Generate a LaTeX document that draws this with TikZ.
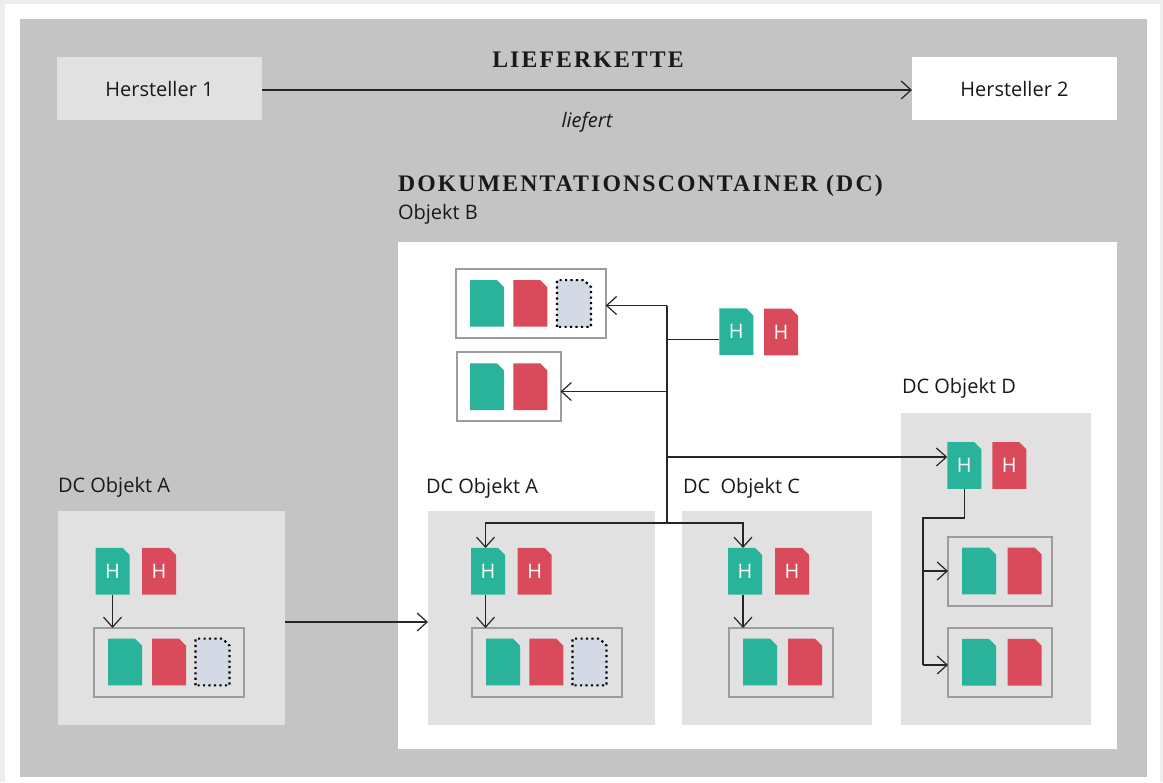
\documentclass[tikz,border=0pt]{standalone}
\usepackage{fontspec}
\setmainfont{Open Sans}
\newfontfamily\titlefont[LetterSpace=9]{Liberation Serif}
\usetikzlibrary{arrows.meta}
\definecolor{page}{RGB}{238, 238, 238}
\definecolor{frame}{RGB}{196, 196, 196}
\definecolor{panel}{RGB}{225, 225, 225}
\definecolor{setline}{RGB}{156, 156, 156}
\definecolor{docgreen}{RGB}{40, 179, 154}
\definecolor{docred}{RGB}{217, 75, 90}
\definecolor{docblue}{RGB}{211, 218, 229}
% Sheet with one cut corner
\makeatletter
\pgfdeclareshape{sheet}{
  \inheritsavedanchors[from=rectangle]
  \inheritanchorborder[from=rectangle]
  \inheritanchor[from=rectangle]{center}
  \inheritanchor[from=rectangle]{north}
  \inheritanchor[from=rectangle]{south}
  \inheritanchor[from=rectangle]{east}
  \inheritanchor[from=rectangle]{west}
  \backgroundpath{
    \southwest \edef\sheetleft{\the\pgf@x}\edef\sheetlow{\the\pgf@y}
    \northeast \edef\sheetright{\the\pgf@x}\edef\sheettop{\the\pgf@y}
    \pgfpathmoveto{\pgfpoint{\sheetleft}{\sheetlow}}
    \pgfpathlineto{\pgfpoint{\sheetleft}{\sheettop}}
    \pgfpathlineto{\pgfpoint{\sheetright-5.25pt}{\sheettop}}
    \pgfpathlineto{\pgfpoint{\sheetright}{\sheettop-5.25pt}}
    \pgfpathlineto{\pgfpoint{\sheetright}{\sheetlow}}
    \pgfpathclose
  }
}
\makeatother
\tikzset{
  >={Straight Barb[length=7.5pt,width=13.5pt,line width=0.9pt]},
  link/.style={draw=black!85, line width=0.9pt},
  plate/.style={inner sep=0pt, outer sep=0pt},
  maker/.style={plate, minimum width=153.75pt, minimum height=47.25pt, text height=12.5pt, font=\fontsize{15}{18}\selectfont, text=black!90},
  label/.style={plate, anchor=west, font=\fontsize{15}{18}\selectfont, text=black!90},
  heading/.style={plate, font=\fontsize{17.8}{20}\selectfont\titlefont\bfseries, text=black!90},
  setbox/.style={plate, draw=setline, line width=1.5pt, minimum height=51.75pt},
  setwide/.style={setbox, minimum width=112pt},
  setnarrow/.style={setbox, minimum width=78pt},
  doc/.style={plate, shape=sheet, minimum width=25.5pt, minimum height=35pt,
    font=\fontsize{15}{18}\selectfont, text=white},
  greendoc/.style={doc, fill=docgreen},
  reddoc/.style={doc, fill=docred},
  opendoc/.style={doc, fill=docblue, draw=black, line width=1.6pt,
    dash pattern=on 1.6pt off 2.5pt},
}
\begin{document}
\begin{tikzpicture}[x=0.75pt, y=-0.75pt]
  \useasboundingbox (0,0) rectangle (1163,782);
  % Background
  \fill[page] (0,0) rectangle (1163,782);
  \fill[white] (5,4) rectangle (1160,782);
  \fill[frame] (20,19) rectangle (1147,777);
  \fill[white] (398,242) rectangle (1117,749);

  % Supply chain
  \node[maker, fill=panel] (herstellerOne) at (159.5,88.5) {Hersteller 1};
  \node[maker, fill=white] (herstellerTwo) at (1014.5,88.5) {Hersteller 2};
  \node[heading] (titleChain) at (588,60) {LIEFERKETTE};
  \node[plate, font=\fontsize{15}{18}\selectfont\itshape, text=black!90] (liefert) at (587,122) {liefert};
  \coordinate (chainStart) at (262,90);
  \draw[link, ->] (chainStart) -- (chainStart -| herstellerTwo.west);

  % Container labels
  \node[heading, anchor=west] (titleContainer) at (398,186) {DOKUMENTATIONSCONTAINER (DC)};
  \node[label] (labelB) at (398,214) {Objekt B};
  \node[label] (labelL) at (58,487.5) {DC Objekt A};
  \node[label] (labelA) at (426,488.5) {DC Objekt A};
  \node[label] (labelC) at (683,488.5) {DC\ \ Objekt C};
  \node[label] (labelD) at (902,388.5) {DC Objekt D};

  % Panels
  \node[plate, fill=panel, minimum width=170.25pt, minimum height=160.5pt] (panelL) at (171.5,618) {};
  \node[plate, fill=panel, minimum width=170.25pt, minimum height=160.5pt] (panelA) at (541.5,618) {};
  \node[plate, fill=panel, minimum width=142.5pt, minimum height=160.5pt] (panelC) at (777,618) {};
  \node[plate, fill=panel, minimum width=142.5pt, minimum height=234pt] (panelD) at (996,569) {};

  % Sets
  \node[setwide] (setTop) at (531,303.5) {};
  \node[greendoc] (setTopG) at (487,303.4) {};
  \node[reddoc] (setTopR) at (530.3,303.4) {};
  \node[opendoc] (setTopO) at (574,303.5) {};
  \node[setnarrow] (setMid) at (508.5,386.75) {};
  \node[greendoc] (setMidG) at (487,386.7) {};
  \node[reddoc] (setMidR) at (530.3,386.7) {};

  \node[setwide] (setL) at (169,662.5) {};
  \node[greendoc] (setLG) at (125,662) {};
  \node[reddoc] (setLR) at (169,662) {};
  \node[opendoc] (setLO) at (212.5,662) {};
  \node[setwide] (setA) at (547,662.5) {};
  \node[greendoc] (setAG) at (503,662) {};
  \node[reddoc] (setAR) at (546.3,662) {};
  \node[opendoc] (setAO) at (589.5,662) {};
  \node[setnarrow] (setC) at (780.5,662.5) {};
  \node[greendoc] (setCG) at (760,662) {};
  \node[reddoc] (setCR) at (805,662) {};
  \node[setnarrow] (setDOne) at (1000,571) {};
  \node[greendoc] (setDOneG) at (979,571) {};
  \node[reddoc] (setDOneR) at (1024.7,571) {};
  \node[setnarrow] (setDTwo) at (1000,662.5) {};
  \node[greendoc] (setDTwoG) at (979,662.2) {};
  \node[reddoc] (setDTwoR) at (1024.7,662.2) {};

  % H documents
  \node[greendoc] (headB) at (736.3,331.7) {H};
  \node[reddoc] (headBR) at (781,332) {H};
  \node[greendoc] (headL) at (112.5,571.3) {H};
  \node[reddoc] (headLR) at (159,571.3) {H};
  \node[greendoc] (headA) at (488,571.3) {H};
  \node[reddoc] (headAR) at (534.7,571.3) {H};
  \node[greendoc] (headC) at (745,571.3) {H};
  \node[reddoc] (headCR) at (792,571.3) {H};
  \node[greendoc] (headD) at (964.3,465.5) {H};
  \node[reddoc] (headDR) at (1009.3,465.5) {H};

  % Junctions
  \coordinate (trunkTop) at (667,305.5);
  \coordinate (trunkHead) at (667,339.5);
  \coordinate (trunkMid) at (667,391.5);
  \coordinate (trunkRight) at (667,457);
  \coordinate (trunkBottom) at (667,523);
  \coordinate (feedA) at (485.5,523);
  \coordinate (feedC) at (743,523);
  \coordinate (linkStart) at (285,622);
  \coordinate (elbowD) at (923,518);
  \coordinate (branchOne) at (923,571);
  \coordinate (branchTwo) at (923,665);

  % Connectors
  \draw[link] (trunkTop) -- (trunkBottom);
  \draw[link, ->] (trunkTop) -- (trunkTop -| setTop.east);
  \draw[link, ->] (trunkMid) -- (trunkMid -| setMid.east);
  \draw[link] (trunkHead) -- (trunkHead -| headB.west);
  \draw[link, ->] (trunkRight) -- (trunkRight -| headD.west);
  \draw[link, ->] (trunkBottom) -- (feedA) -- (feedA |- headA.north);
  \draw[link, ->] (trunkBottom) -- (feedC) -- (feedC |- headC.north);
  \draw[link, ->] (linkStart) -- (linkStart -| panelA.west);
  \draw[link, ->] (headL.south) -- (headL.south |- setL.north);
  \draw[link, ->] (feedA |- headA.south) -- (feedA |- setA.north);
  \draw[link, ->] (feedC |- headC.south) -- (feedC |- setC.north);
  \draw[link] (headD.south) |- (elbowD) -- (branchTwo);
  \draw[link, ->] (branchOne) -- (setDOne.west);
  \draw[link, ->] (branchTwo) -- (branchTwo -| setDTwo.west);
\end{tikzpicture}
\end{document}
